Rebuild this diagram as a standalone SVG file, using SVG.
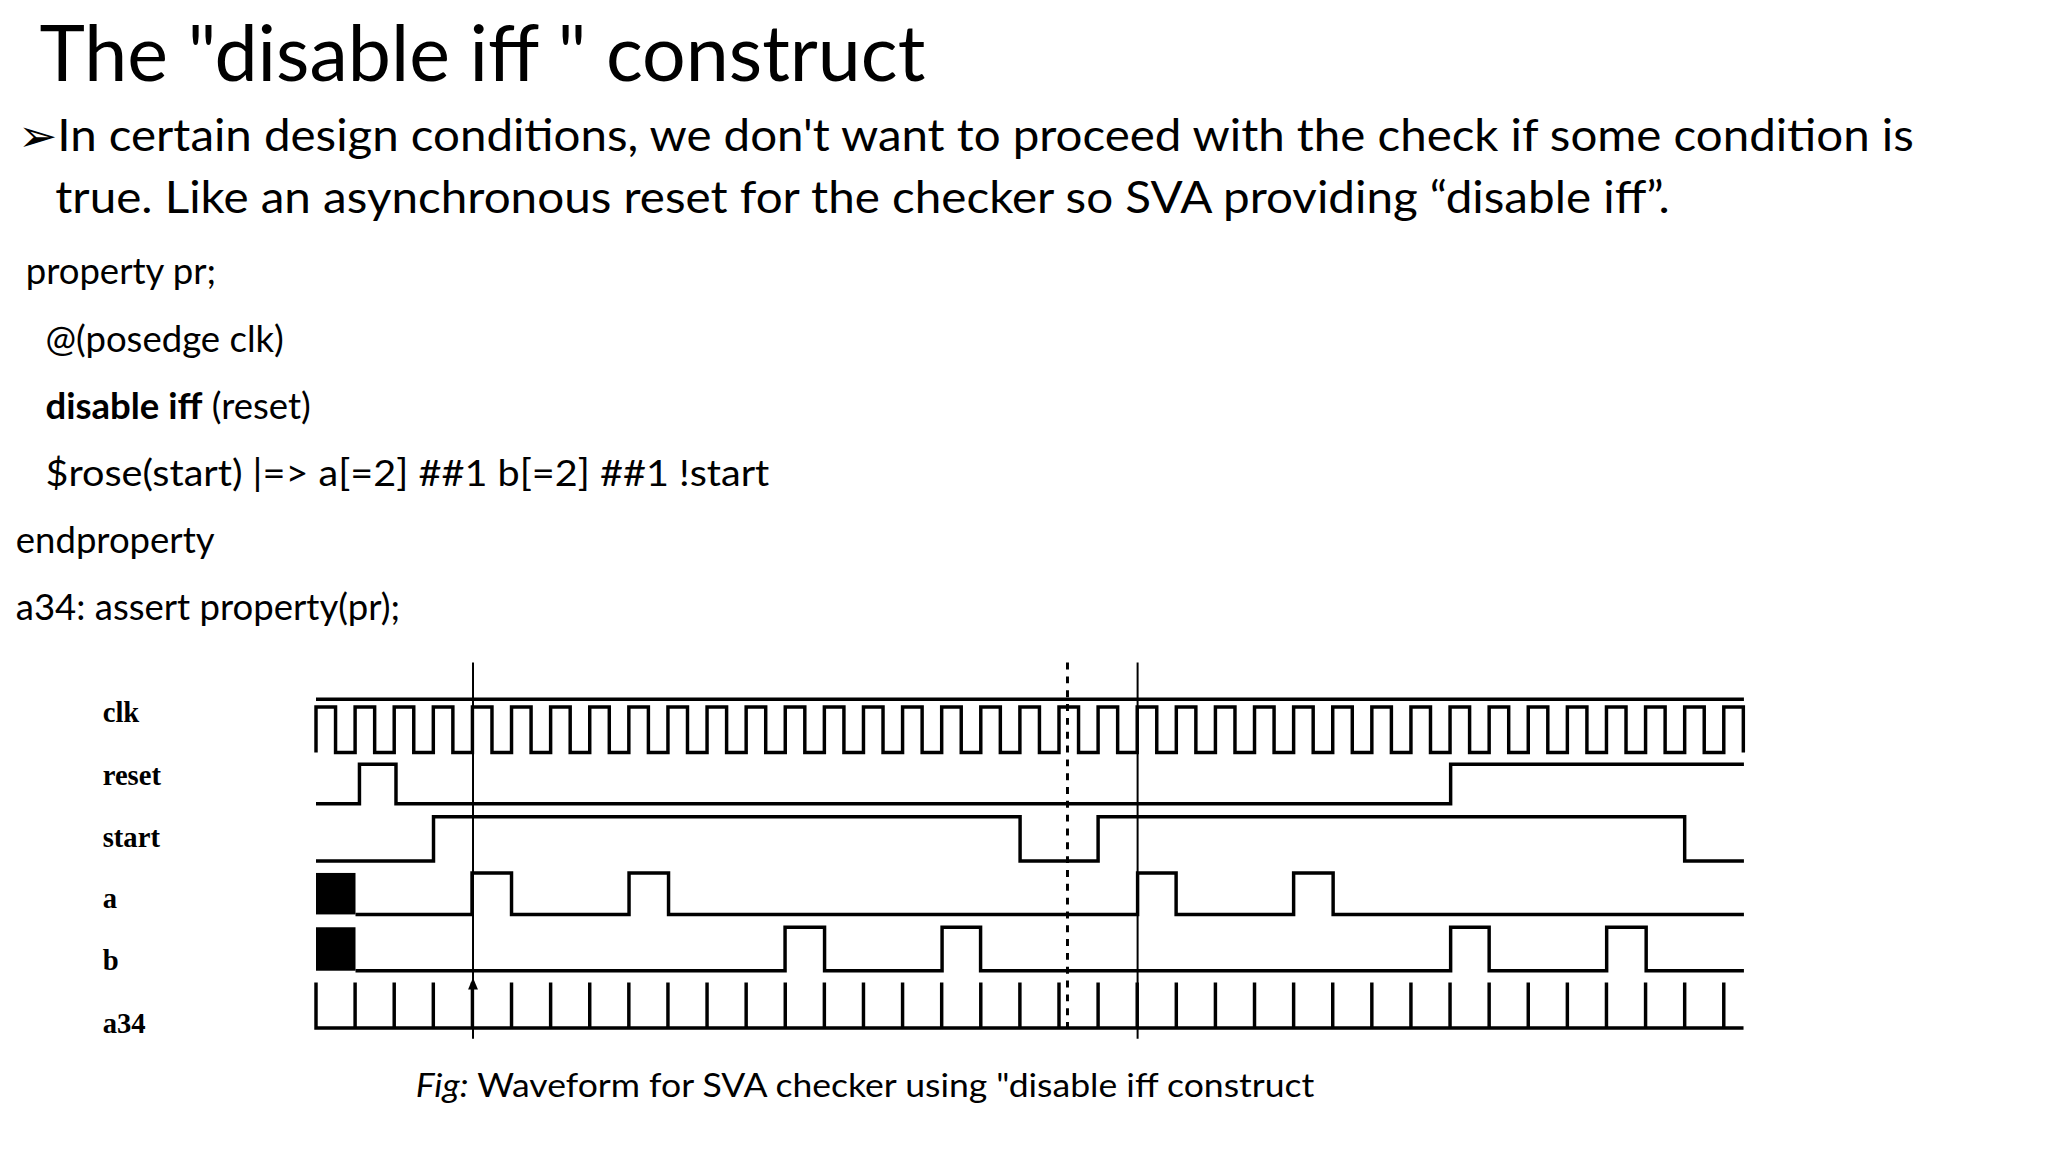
<svg xmlns="http://www.w3.org/2000/svg" width="2048" height="1152" viewBox="0 0 2048 1152">
<style>
.t{font-family:Lato,"Liberation Sans",sans-serif;fill:#000}
.code{font-size:37px}
.lbl{font-family:"Liberation Serif",serif;font-weight:bold;font-size:29px}
.w{fill:none;stroke:#000;stroke-width:3.5}
</style>
<rect width="2048" height="1152" fill="#fff"/>
<g transform="scale(0.9875)">
<g id="title"><text class="t" x="40" y="82" font-size="78" textLength="897" lengthAdjust="spacingAndGlyphs">The "disable iff " construct</text></g>
<g id="bullet">
<text class="t" x="18" y="153" font-size="45" textLength="1920" lengthAdjust="spacingAndGlyphs">➢In certain design conditions, we don't want to proceed with the check if some condition is</text>
<text class="t" x="56" y="216" font-size="45" textLength="1635" lengthAdjust="spacingAndGlyphs">true. Like an asynchronous reset for the checker so SVA providing “disable iff”.</text>
</g>
<g id="code">
<text class="t code" x="26" y="288">property pr;</text>
<text class="t code" x="46" y="356">@(posedge clk)</text>
<text class="t code" x="46" y="424"><tspan font-weight="bold">disable iff</tspan> (reset)</text>
<text class="t code" x="46" y="492" textLength="733" lengthAdjust="spacingAndGlyphs">$rose(start) |=&gt; a[=2] ##1 b[=2] ##1 !start</text>
<text class="t code" x="16" y="560">endproperty</text>
<text class="t code" x="16" y="628">a34: assert property(pr);</text>
</g>
<g id="labels">
<text class="lbl" x="104" y="731">clk</text>
<text class="lbl" x="104" y="795">reset</text>
<text class="lbl" x="104" y="858">start</text>
<text class="lbl" x="104" y="920">a</text>
<text class="lbl" x="104" y="982">b</text>
<text class="lbl" x="104" y="1046">a34</text>
</g>
<g id="waves">
<path class="w" d="M320,708 H1766"/>
<path class="w" d="M320,762 v-46h19.8v46h19.8 v-46h19.8v46h19.8 v-46h19.8v46h19.8 v-46h19.8v46h19.8 v-46h19.8v46h19.8 v-46h19.8v46h19.8 v-46h19.8v46h19.8 v-46h19.8v46h19.8 v-46h19.8v46h19.8 v-46h19.8v46h19.8 v-46h19.8v46h19.8 v-46h19.8v46h19.8 v-46h19.8v46h19.8 v-46h19.8v46h19.8 v-46h19.8v46h19.8 v-46h19.8v46h19.8 v-46h19.8v46h19.8 v-46h19.8v46h19.8 v-46h19.8v46h19.8 v-46h19.8v46h19.8 v-46h19.8v46h19.8 v-46h19.8v46h19.8 v-46h19.8v46h19.8 v-46h19.8v46h19.8 v-46h19.8v46h19.8 v-46h19.8v46h19.8 v-46h19.8v46h19.8 v-46h19.8v46h19.8 v-46h19.8v46h19.8 v-46h19.8v46h19.8 v-46h19.8v46h19.8 v-46h19.8v46h19.8 v-46h19.8v46h19.8 v-46h19.8v46h19.8 v-46h19.8v46h19.8 v-46h19.8v46h19.8 v-46h19.8v46"/>
<path class="w" d="M320,814 H364 V774 H401 V814 H1469 V774 H1766"/>
<path class="w" d="M320,872 H439 V827 H1033 V872 H1112 V827 H1706 V872 H1766"/>
<rect x="320" y="884" width="40" height="42" fill="#000"/>
<path class="w" d="M360,926 H478 V884 H518 V926 H637 V884 H677 V926 H1152 V884 H1191 V926 H1310 V884 H1350 V926 H1766"/>
<rect x="320" y="939" width="40" height="44" fill="#000"/>
<path class="w" d="M360,983 H795 V939 H835 V983 H954 V939 H993 V983 H1469 V939 H1508 V983 H1627 V939 H1667 V983 H1766"/>
<path class="w" d="M320,1041 v-46v46h39.6 v-46v46h39.6 v-46v46h39.6 v-46v46h39.6 v-46v46h39.6 v-46v46h39.6 v-46v46h39.6 v-46v46h39.6 v-46v46h39.6 v-46v46h39.6 v-46v46h39.6 v-46v46h39.6 v-46v46h39.6 v-46v46h39.6 v-46v46h39.6 v-46v46h39.6 v-46v46h39.6 v-46v46h39.6 v-46v46h39.6 v-46v46h39.6 v-46v46h39.6 v-46v46h39.6 v-46v46h39.6 v-46v46h39.6 v-46v46h39.6 v-46v46h39.6 v-46v46h39.6 v-46v46h39.6 v-46v46h39.6 v-46v46h39.6 v-46v46h39.6 v-46v46h39.6 v-46v46h39.6 v-46v46h39.6 v-46v46h39.6 v-46v46h39.6 v-46v46h20"/>
<path d="M479,990 l-5,12 h10 z" fill="#000"/>
</g>
<g id="cursors">
<path d="M479,671 V1052 M1152,671 V1052" stroke="#000" stroke-width="2"/>
<path d="M1081,671 V1048" stroke="#000" stroke-width="3" stroke-dasharray="7,7"/>
</g>
<g id="caption"><text class="t" x="421" y="1111" font-size="34" textLength="910" lengthAdjust="spacingAndGlyphs"><tspan font-style="italic">Fig:</tspan> Waveform for SVA checker using "disable iff construct</text></g>
</g>
</svg>
